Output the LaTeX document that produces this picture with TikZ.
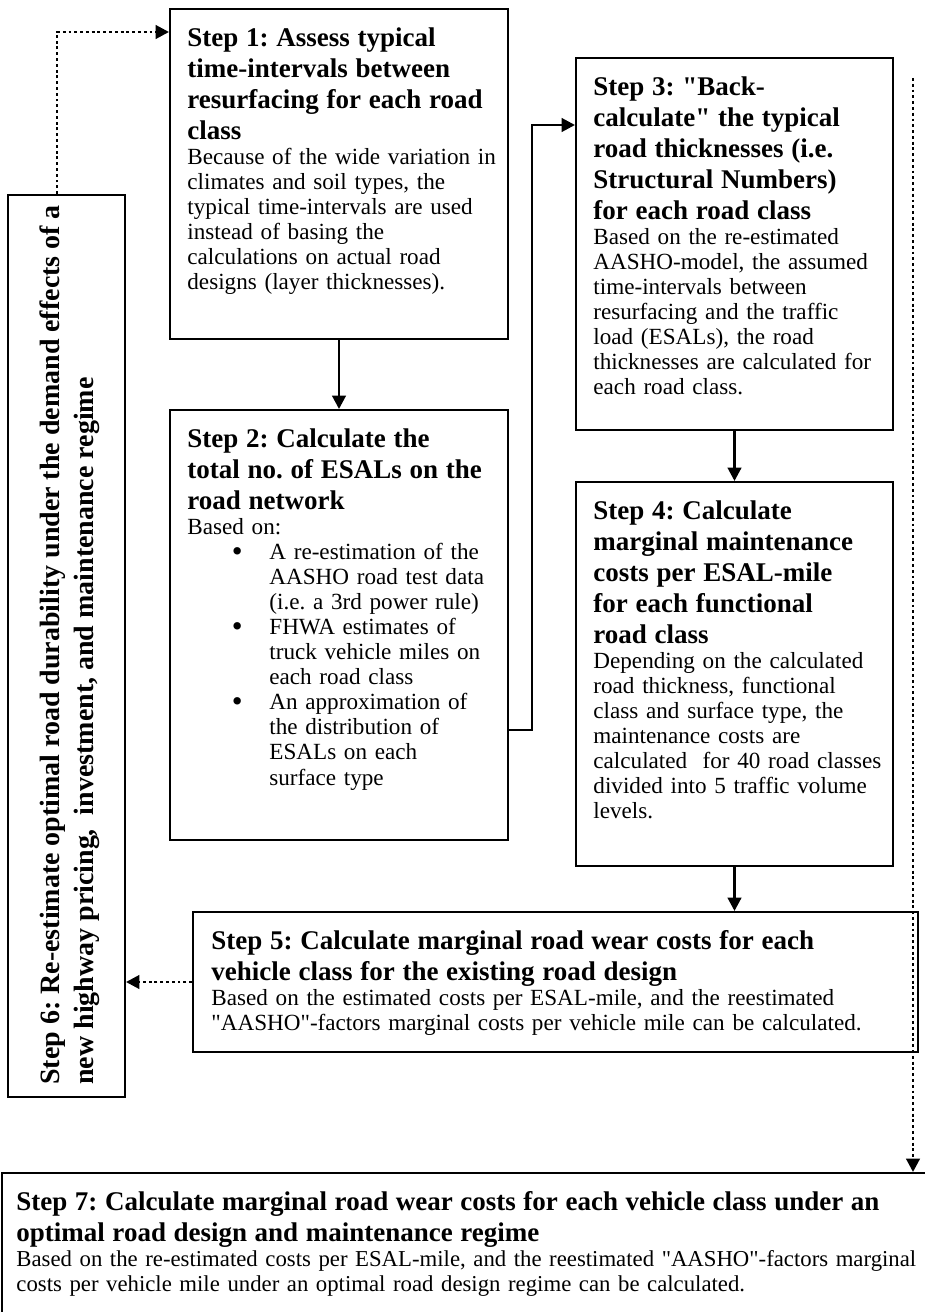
\documentclass[tikz,border=0pt]{standalone}
\usepackage{fontspec}
\setmainfont{Liberation Serif}
\usetikzlibrary{arrows.meta}
\usetikzlibrary{fit}

\newcommand{\stephead}[1]{{\fontsize{14}{16.1}\selectfont\bfseries #1\par}}
\newcommand{\qt}{\textquotedbl}
\newcommand{\bul}{\hspace*{23pt}\makebox[19.5pt][l]{\raisebox{-0.15ex}{\fontsize{16}{16}\selectfont\textbullet}}}
\newcommand{\ind}{\hspace*{42.5pt}}
\frenchspacing

\begin{document}
\begin{tikzpicture}[x=0.5185pt,y=-0.5185pt,
  stepbox/.style={draw, line width=1pt, inner sep=0pt},
  steptext/.style={anchor=north west, inner sep=0pt, align=left, font=\fontsize{12}{13}\selectfont},
  flowline/.style={line width=1.5pt, -{Triangle[length=7pt,width=7pt]}},
  loopline/.style={line width=1.5pt, dash pattern=on 1.5pt off 1.5pt, -{Triangle[length=7pt,width=7pt]}}]
\useasboundingbox (0,0) rectangle (925,1312);
\clip (0,0) rectangle (925,1312);

%Boxes
\node[stepbox, fit={(170,9) (508,339)}] (s1) {};
\node[stepbox, fit={(170,410) (508,840)}] (s2) {};
\node[stepbox, fit={(576,58) (893,430)}] (s3) {};
\node[stepbox, fit={(576,482) (893,866)}] (s4) {};
\node[stepbox, fit={(193,912) (918,1052)}] (s5) {};
\node[stepbox, fit={(8,195) (125,1097)}] (s6) {};
\node[stepbox, fit={(2,1173) (935,1340)}] (s7) {};

% Text Node
\node[steptext, text width=175pt] (t1) at ([shift={(18,19)}]s1.north west) {\stephead{Step 1: Assess typical\\ time-intervals between\\ resurfacing for each road\\ class}Because of the wide variation in\\ climates and soil types, the\\ typical time-intervals are used\\ instead of basing the\\ calculations on actual road\\ designs (layer thicknesses).};
% Text Node
\node[steptext, text width=175pt] (t2) at ([shift={(18,19)}]s2.north west) {\stephead{Step 2: Calculate the\\ total no. of ESALs on the\\ road network}Based on:\\
\bul A re-estimation of the\\ \ind AASHO road test data\\ \ind (i.e. a 3rd power rule)\\
\bul FHWA estimates of\\ \ind truck vehicle miles on\\ \ind each road class\\
\bul An approximation of\\ \ind the distribution of\\ \ind ESALs on each\\ \ind surface type};
% Text Node
\node[steptext, text width=175pt] (t3) at ([shift={(18,19)}]s3.north west) {\stephead{Step 3: \qt Back-\\ calculate\qt{} the typical\\ road thicknesses (i.e.\\ Structural Numbers)\\ for each road class}Based on the re-estimated\\ AASHO-model, the assumed\\ time-intervals between\\ resurfacing and the traffic\\ load (ESALs), the road\\ thicknesses are calculated for\\ each road class.};
% Text Node
\node[steptext, text width=175pt] (t4) at ([shift={(18,19)}]s4.north west) {\stephead{Step 4: Calculate\\ marginal maintenance\\ costs per ESAL-mile\\ for each functional\\ road class}Depending on the calculated\\ road thickness, functional\\ class and surface type, the\\ maintenance costs are\\ calculated~ for 40 road classes\\ divided into 5 traffic volume\\ levels.};
% Text Node
\node[steptext, text width=380pt] (t5) at ([shift={(19,19)}]s5.north west) {\stephead{Step 5: Calculate marginal road wear costs for each\\ vehicle class for the existing road design}Based on the estimated costs per ESAL-mile, and the reestimated\\ \qt AASHO\qt-factors marginal costs per vehicle mile can be calculated.};
% Text Node
\node[steptext, rotate=90, font=\fontsize{14.5}{18}\selectfont\bfseries] (t6) at (39,1085) {Step 6: Re-estimate optimal road durability under the demand effects of a\\ new highway pricing,~ investment, and maintenance regime};
% Text Node
\node[steptext, text width=480pt, font=\fontsize{11.8}{13}\selectfont] (t7) at ([shift={(15,19)}]s7.north west) {\stephead{Step 7: Calculate marginal road wear costs for each vehicle class under an\\ optimal road design and maintenance regime}Based on the re-estimated costs per ESAL-mile, and the reestimated \qt AASHO\qt-factors marginal\\ costs per vehicle mile under an optimal road design regime can be calculated.};

%Arrows
\draw[flowline] (s1.south) -- (s2.north);
\coordinate (bend23) at (532,125);
\draw[flowline] (s2.east |- 0,730) -| (bend23) -- (bend23 -| s3.west);
\draw[flowline] (s3.south) -- (s4.north);
\draw[flowline] (s4.south) -- (s4.south |- s5.north);
%Dotted
\coordinate (loop6) at (57,32);
\draw[loopline] (s6.north -| loop6) -- (loop6) -- (loop6 -| s1.west);
\draw[loopline] (s5.west) -- (s5.west -| s6.east);
\coordinate (drop7) at (913,78);
\draw[loopline] (drop7) -- (drop7 |- s7.north);

\end{tikzpicture}
\end{document}
